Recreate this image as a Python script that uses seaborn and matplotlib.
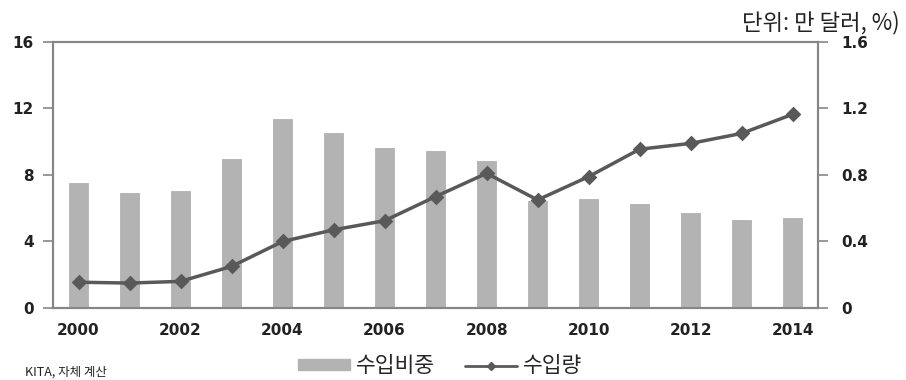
import pandas as pd
import seaborn as sns
import matplotlib.pyplot as plt

sns.set_style("white")
plt.rcParams["font.family"] = ["DejaVu Sans", "Noto Sans CJK KR"]

# 연도별 수입비중(%, 왼쪽 축) / 수입량(만 달러, 오른쪽 축)
years = list(range(2000, 2015))
share = [7.6, 7.0, 7.1, 9.0, 11.4, 10.6, 9.7, 9.5, 8.9, 6.5, 6.6, 6.3, 5.75, 5.35, 5.45]
volume = [0.155, 0.15, 0.16, 0.25, 0.40, 0.47, 0.525, 0.67, 0.81, 0.65, 0.79, 0.955, 0.99, 1.05, 1.165]
year_labels = [str(y) if y % 2 == 0 else "" for y in years]

df = pd.DataFrame({"year": years, "share": share, "volume": volume})

axis_grey = "#868686"
bar_grey = "#b3b3b3"
line_grey = "#595959"
cjk = ["Noto Sans CJK KR", "DejaVu Sans"]

fig = plt.figure(figsize=(9.06, 3.8), dpi=100)
ax = fig.add_axes([0.0585, 0.1895, 0.8445, 0.70])

sns.barplot(data=df, x="year", y="share", color=bar_grey, width=0.4,
            saturation=1, edgecolor="white", linewidth=0.8, ax=ax)
ax2 = ax.twinx()
sns.pointplot(data=df, x="year", y="volume", color=line_grey, markers="D",
              markersize=6, linewidth=2.5, ax=ax2)

ax.set_xlim(-0.5, len(years) - 0.5)
ax.set_ylim(0, 16)
ax2.set_ylim(0, 1.6)
ax.set_yticks([0, 4, 8, 12, 16])
ax2.set_yticks([0, 0.4, 0.8, 1.2, 1.6])
ax2.set_yticklabels(["0", "0.4", "0.8", "1.2", "1.6"])
ax.set_xticks(range(len(years)))
ax.set_xticklabels(year_labels)
ax.set_xticks([i - 0.5 for i in range(0, len(years), 2)], minor=True)
ax.set_xlabel("")
ax.set_ylabel("")
ax2.set_xlabel("")
ax2.set_ylabel("")

for a in (ax, ax2):
    for s in a.spines.values():
        s.set_color(axis_grey)
        s.set_linewidth(1.5)
        s.set_visible(True)
ax.tick_params(axis="x", which="major", length=0, pad=11, labelsize=11, colors="#222222")
ax.tick_params(axis="x", which="minor", length=5, width=1.2, color=axis_grey, direction="out")
ax.tick_params(axis="y", length=7, width=1.2, color=axis_grey, direction="out",
               labelsize=11, labelcolor="#222222", pad=7)
ax2.tick_params(axis="y", length=7, width=1.2, color=axis_grey, direction="out",
                labelsize=11, labelcolor="#222222", pad=10)
for lab in ax.get_xticklabels() + ax.get_yticklabels() + ax2.get_yticklabels():
    lab.set_fontweight("bold")

fig.text(0.993, 0.94, "단위: 만 달러, %)", ha="right", va="center", fontsize=16,
         family=cjk, color="#222222")

handles = [plt.Rectangle((0, 0), 1, 1, color=bar_grey),
           plt.Line2D([], [], color=line_grey, marker="D", markersize=4, linewidth=2)]
fig.legend(handles, ["수입비중", "수입량"], loc="center", bbox_to_anchor=(0.486, 0.036),
           ncol=2, frameon=False, handlelength=2.4, handleheight=0.45,
           handletextpad=0.3, columnspacing=1.4,
           prop={"family": cjk, "size": 15.5})

fig.text(0.028, 0.02, "KITA, 자체 계산", ha="left", va="center", fontsize=9,
         family=cjk, color="#222222")

fig.savefig("out.png", dpi=100)
